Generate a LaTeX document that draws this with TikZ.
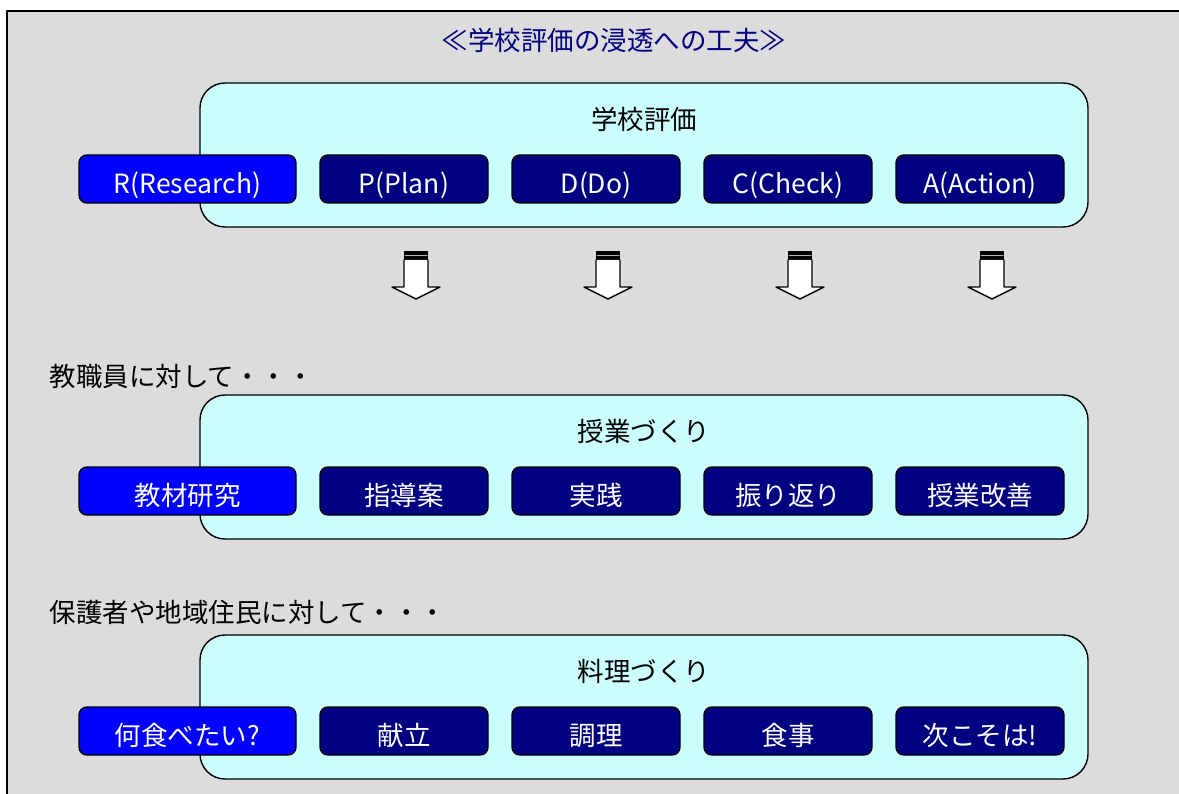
\documentclass[tikz,border=0pt]{standalone}
\usepackage{fontspec}
\setmainfont{Noto Sans CJK JP}
\usepackage{tikz}
\usetikzlibrary{positioning}
\definecolor{bggray}{HTML}{DCDCDC}
\definecolor{lcyan}{HTML}{CCFFFF}
\definecolor{navyblue}{HTML}{000080}
\definecolor{pureblue}{HTML}{0000FF}

\begin{document}
\begin{tikzpicture}[x=1pt,y=-1pt,line cap=round,line join=round,
    jfont/.style={font=\fontsize{26.5}{30}\selectfont},
    bigbox/.style={draw=black,line width=1.4pt,fill=lcyan,rounded corners=25pt},
    stepbox/.style={draw=black,line width=1.4pt,fill=navyblue,rounded corners=8pt,
      minimum height=48pt,inner sep=0pt,outer sep=0pt,text=white,jfont,
      text height=29pt,text depth=0pt},
    firstbox/.style={stepbox,fill=pureblue,minimum width=217pt},
    otherbox/.style={stepbox,minimum width=168pt}]
    \useasboundingbox (0,0) rectangle (1179,794);
    \clip (0,0) rectangle (1179,794);
    % frame
    \draw[fill=bggray,line width=1.4pt] (7,11) rectangle (1200,820);
    \node[jfont,text=navyblue] (title) at (614,40) {≪学校評価の浸透への工夫≫};
    % three rows
    \foreach \row/\yy/\head/\ra/\rb/\rc/\rd/\re in {%
        1/0/{学校評価}/{R(Research)}/{P(Plan)}/{D(Do)}/{C(Check)}/{A(Action)},
        2/312/{授業づくり}/{教材研究}/{指導案}/{実践}/{振り返り}/{授業改善},
        3/552/{料理づくり}/{何食べたい?}/{献立}/{調理}/{食事}/{次こそは!}}
    {
      \draw[bigbox] (200,83+\yy) rectangle (1088,227+\yy);
      \node[jfont] (head\row) at (644,119+\yy) {\head};
      \node[firstbox,anchor=west] (r\row) at (79,179+\yy) {\ra};
      \node[otherbox,right=24pt of r\row] (p\row) {\rb};
      \node[otherbox,right=24pt of p\row] (d\row) {\rc};
      \node[otherbox,right=24pt of d\row] (c\row) {\rd};
      \node[otherbox,right=24pt of c\row] (a\row) {\re};
    }
    \node[jfont,anchor=west] (staff) at (46,376) {教職員に対して・・・};
    \node[jfont,anchor=west] (parents) at (46,612) {保護者や地域住民に対して・・・};
    % arrows
    \foreach \x in {416,608,800,992}
    {
      \fill[black] (\x-12,251) rectangle (\x+12,260);
      \draw[white!70!black,line width=1pt] (\x-11,255.5) -- (\x+11,255.5);
      \draw[fill=white,line width=1.4pt] (\x-12,260) -- (\x-12,287) -- (\x-24,287)
        -- (\x,299) -- (\x+24,287) -- (\x+12,287) -- (\x+12,260);
    }
\end{tikzpicture}
\end{document}
